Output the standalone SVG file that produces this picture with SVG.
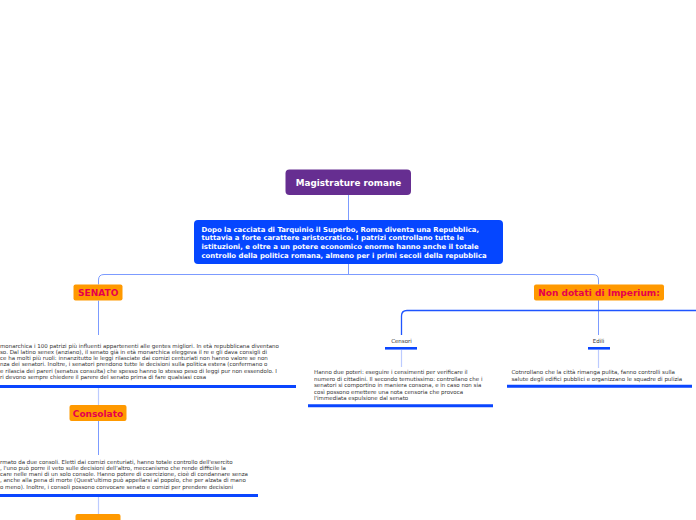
<svg xmlns="http://www.w3.org/2000/svg" width="696" height="520" viewBox="0 0 696 520">
<style>
.bold{font-family:"DejaVu Sans",Verdana,sans-serif;font-weight:bold}
.sm{font-family:"DejaVu Sans",Verdana,sans-serif;font-size:5.5px;fill:#333333}
.orange{fill:#ff9900}
.olbl{font-size:9px;fill:#e6004c;text-anchor:middle}
.wt{fill:#ffffff;font-size:6.9px}
.c{fill:none;stroke:#7c9bff;stroke-width:1}
.cp{fill:none;stroke:#bccbff;stroke-width:1.2}
.cb{fill:none;stroke:#1f55ff;stroke-width:1.3}
.ul{stroke:#0a46ff;stroke-width:3}
.bar{stroke:#0a46ff;stroke-width:2.6}
</style>
<rect width="696" height="520" fill="#ffffff"/>
<g id="connectors">
<path class="c" d="M348.5,195 V220"/>
<path class="c" d="M348.5,264 V274.5"/>
<path class="c" d="M98.5,284.5 V280 Q98.5,274.5 104,274.5 H593 Q598.5,274.5 598.5,280 V284.5"/>
<path class="c" d="M98.5,300.5 V335"/>
<path class="cp" d="M98.5,388 V405"/>
<path class="c" d="M98.5,421 V455"/>
<path class="cp" d="M98.5,497 V514"/>
<path class="c" d="M598.5,300 V335"/>
<path class="cb" d="M696,310.5 H407 Q401.5,310.5 401.5,316 V335"/>
<path class="cp" d="M401.5,350 V367"/>
<path class="cp" d="M598.5,350 V368"/>
</g>
<g id="node-magistrature">
<rect x="285.5" y="169.5" width="125.5" height="25.5" rx="4" fill="#662e91"/>
<text class="bold" x="348.5" y="186" font-size="8.8" fill="#ffffff" text-anchor="middle">Magistrature romane</text>
</g>
<g id="node-repubblica">
<rect x="194" y="220" width="309" height="44" rx="4" fill="#0546ff"/>
<text class="bold wt" x="201.5" y="231.8">Dopo la cacciata di Tarquinio il Superbo, Roma diventa una Repubblica,</text>
<text class="bold wt" x="201.5" y="240.4">tuttavia a forte carattere aristocratico. I patrizi controllano tutte le</text>
<text class="bold wt" x="201.5" y="249">istituzioni, e oltre a un potere economico enorme hanno anche il totale</text>
<text class="bold wt" x="201.5" y="257.6">controllo della politica romana, almeno per i primi secoli della repubblica</text>
</g>
<g id="node-senato">
<rect class="orange" x="73.5" y="284.5" width="49" height="16" rx="2"/>
<text class="bold olbl" x="98.2" y="296">SENATO</text>
</g>
<g id="node-senato-text">
<text class="sm" x="0" y="347.5">monarchica i 100 patrizi più influenti appartenenti alle gentes migliori. In età repubblicana diventano</text>
<text class="sm" x="0" y="353.8">so. Dal latino senex (anziano), il senato già in età monarchica eleggeva il re e gli dava consigli di</text>
<text class="sm" x="0" y="360.1">ce ha molti più ruoli: innanzitutto le leggi rilasciate dai comizi centuriati non hanno valore se non</text>
<text class="sm" x="0" y="366.4">nza dei senatori. Inoltre, i senatori prendono tutte le decisioni sulla politica estera (confermano o</text>
<text class="sm" x="0" y="372.7">e rilascia dei pareri (senatus consulta) che spesso hanno lo stesso peso di leggi pur non essendolo. I</text>
<text class="sm" x="0" y="379">ri devono sempre chiedere il parere del senato prima di fare qualsiasi cosa</text>
<line class="ul" x1="0" y1="386.5" x2="296" y2="386.5"/>
</g>
<g id="node-consolato">
<rect class="orange" x="69.5" y="405" width="57" height="16" rx="2"/>
<text class="bold olbl" x="98" y="416.7">Consolato</text>
</g>
<g id="node-consolato-text">
<text class="sm" x="0" y="463.5">rmato da due consoli. Eletti dai comizi centuriati, hanno totale controllo dell'esercito</text>
<text class="sm" x="0" y="469.8">, l'uno può porre il veto sulle decisioni dell'altro, meccanismo che rende difficile la</text>
<text class="sm" x="0" y="476.1">care nelle mani di un solo console. Hanno potere di coercizione, cioè di condannare senza</text>
<text class="sm" x="0" y="482.4">, anche alla pena di morte (Quest'ultimo può appellarsi al popolo, che per alzata di mano</text>
<text class="sm" x="0" y="488.7">o meno). Inoltre, i consoli possono convocare senato e comizi per prendere decisioni</text>
<line class="ul" x1="0" y1="495.5" x2="258" y2="495.5"/>
</g>
<g id="node-next">
<rect class="orange" x="75.5" y="514" width="45" height="16" rx="2"/>
</g>
<g id="node-nondotati">
<rect class="orange" x="534" y="284.5" width="130" height="16" rx="2"/>
<text class="bold olbl" x="599" y="296">Non dotati di Imperium:</text>
</g>
<g id="node-censori">
<text class="sm" x="401.5" y="342.8" text-anchor="middle">Censori</text>
<line class="bar" x1="385" y1="348.3" x2="417" y2="348.3"/>
<text class="sm" x="314" y="374.4">Hanno due poteri: eseguire i censimenti per verificare il</text>
<text class="sm" x="314" y="380.9">numero di cittadini. Il secondo temutissimo: controllano che i</text>
<text class="sm" x="314" y="387.4">senatori si comportino in maniera consona, e in caso non sia</text>
<text class="sm" x="314" y="393.9">così possono emettere una nota censoria che provoca</text>
<text class="sm" x="314" y="400.4">l'immediata espulsione dal senato</text>
<line class="ul" x1="308" y1="405.7" x2="493" y2="405.7"/>
</g>
<g id="node-edili">
<text class="sm" x="598.5" y="342.8" text-anchor="middle">Edili</text>
<line class="bar" x1="588" y1="348.3" x2="610" y2="348.3"/>
<text class="sm" x="511.5" y="374.4">Cotnrollano che la città rimanga pulita, fanno controlli sulla</text>
<text class="sm" x="511.5" y="380.7">salute degli edifici pubblici e organizzano le squadre di pulizia</text>
<line class="ul" x1="507" y1="386.3" x2="692" y2="386.3"/>
</g>
</svg>
